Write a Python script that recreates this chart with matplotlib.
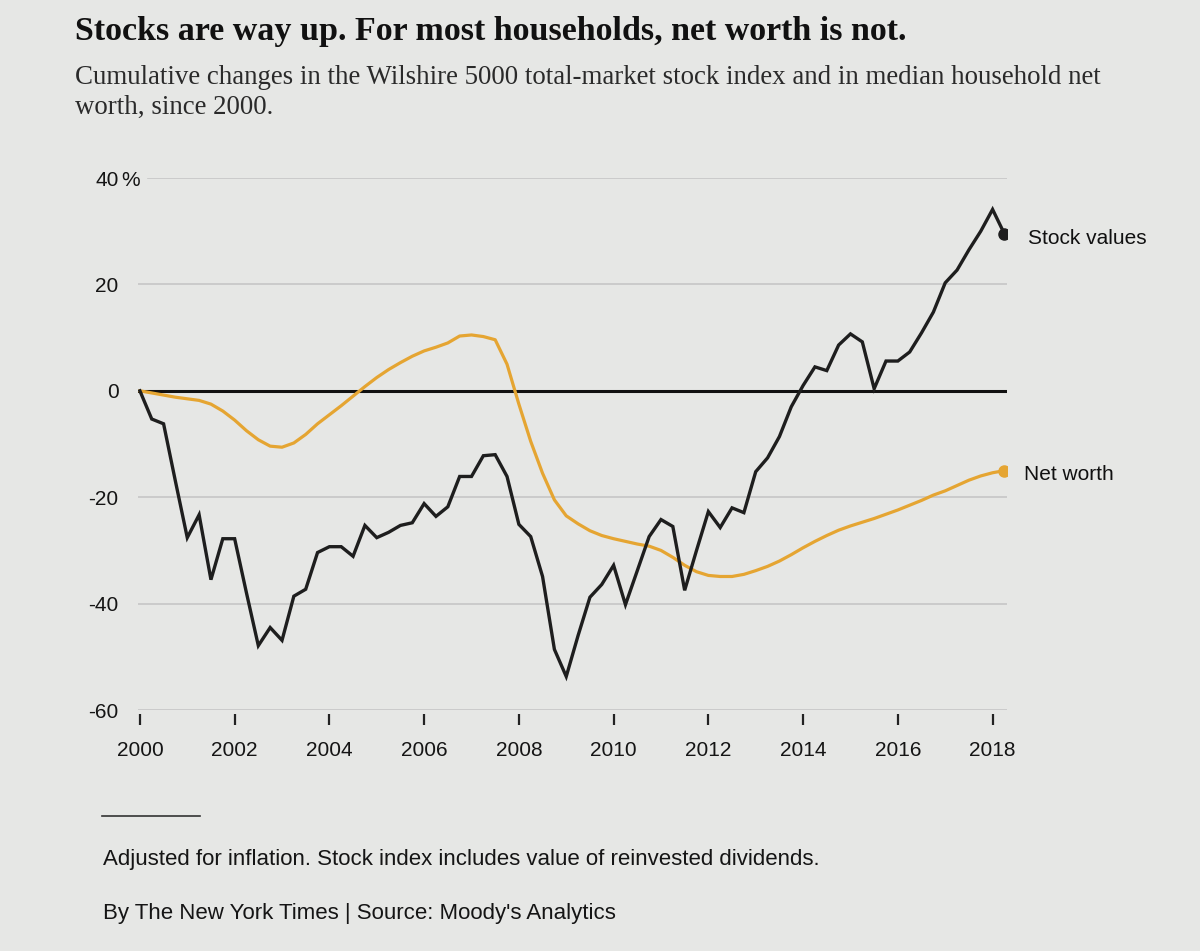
import numpy as np
import matplotlib.pyplot as plt

# Quarterly values, 2000 Q1 onward (cumulative % change)
stock_values = [
    0, -5.3, -6.2, -17, -27.6, -23.3, -35.5, -27.8, -27.8, -38,
    -47.9, -44.5, -46.9, -38.6, -37.3, -30.4, -29.3, -29.3, -31.1, -25.3,
    -27.6, -26.6, -25.3, -24.8, -21.2, -23.6, -21.8, -16.1, -16.1, -12.2,
    -12.0, -16.1, -25.1, -27.4, -34.9, -48.6, -53.7, -46, -38.8, -36.4,
    -32.8, -40.2, -33.8, -27.4, -24.2, -25.5, -37.5, -30, -22.7, -25.7,
    -22.0, -22.9, -15.2, -12.6, -8.6, -3, 1, 4.5, 3.8, 8.6,
    10.7, 9.2, 0.4, 5.6, 5.6, 7.3, 10.9, 14.8, 20.3, 22.7,
    26.5, 30, 34.1, 29.5,
]
net_worth = [
    0, -0.4, -0.8, -1.2, -1.5, -1.8, -2.5, -3.8, -5.5, -7.5,
    -9.2, -10.4, -10.6, -9.8, -8.2, -6.2, -4.5, -2.8, -1.0, 0.8,
    2.5, 4.0, 5.3, 6.5, 7.5, 8.2, 9.0, 10.3, 10.5, 10.2,
    9.6, 5, -2.5, -9.5, -15.5, -20.5, -23.5, -25, -26.3, -27.2,
    -27.8, -28.3, -28.8, -29.2, -30, -31.3, -32.8, -34, -34.7, -34.9,
    -34.9, -34.5, -33.8, -33, -32, -30.8, -29.5, -28.3, -27.2, -26.2,
    -25.4, -24.7, -24, -23.2, -22.4, -21.5, -20.6, -19.6, -18.8, -17.8,
    -16.8, -16, -15.4, -15,
]
start_year = 2000
y_ticks = [-60, -40, -20, 0, 20, 40]
x_ticks = [2000, 2002, 2004, 2006, 2008, 2010, 2012, 2014, 2016, 2018]

years = start_year + np.arange(len(stock_values)) / 4
years_nw = start_year + np.arange(len(net_worth)) / 4

bg = '#e6e7e5'
orange = '#e5a532'
ink = '#1e1e1e'

fig = plt.figure(figsize=(12, 9.51), dpi=100, facecolor=bg)
ax = fig.add_axes([0.115, 0.2534, 0.724, 0.5594], facecolor=bg)

ax.set_xlim(1999.96, 2018.3)
ax.set_ylim(-60, 40)

# gridlines (top one starts after the % sign)
for v in y_ticks:
    if v == 0:
        continue
    start = 0.012 if v == max(y_ticks) else 0
    ax.axhline(v, xmin=start, color='#c6c6c6', lw=1.2, zorder=1)
ax.axhline(0, color='#111111', lw=2.2, zorder=2)

ax.plot(years_nw, net_worth, color=orange, lw=2.3, zorder=3, solid_joinstyle='round')
ax.plot(years, stock_values, color=ink, lw=2.4, zorder=4, solid_joinstyle='miter')
ax.plot(years[-1], stock_values[-1], 'o', color=ink, ms=8, zorder=5)
ax.plot(years_nw[-1], net_worth[-1], 'o', color=orange, ms=8, zorder=5)

ax.annotate('Stock values', (years[-1], stock_values[-1]), xytext=(17, -3),
            textcoords='offset points', va='center', ha='left',
            fontsize=15, family='Liberation Sans', color='#111111',
            annotation_clip=False)
ax.annotate('Net worth', (years_nw[-1], net_worth[-1]), xytext=(14, -3),
            textcoords='offset points', va='center', ha='left',
            fontsize=15, family='Liberation Sans', color='#111111',
            annotation_clip=False)

for s in ax.spines.values():
    s.set_visible(False)
ax.spines['bottom'].set_position(('outward', 3))

ax.set_yticks(y_ticks)
ax.set_yticklabels([str(v) for v in y_ticks])
ax.set_xticks(x_ticks)
ax.set_xticklabels([str(v) for v in x_ticks])
ax.tick_params(axis='y', length=0, pad=14, labelsize=15, labelcolor='#151515')
ax.tick_params(axis='x', length=8, width=1.6, color='#222222', pad=11,
               labelsize=15, labelcolor='#151515')
for lab in ax.get_xticklabels() + ax.get_yticklabels():
    lab.set_family('Liberation Sans')
ax.annotate('%', (0, max(y_ticks)), xycoords=('axes fraction', 'data'),
            xytext=(-12, 0), textcoords='offset points', va='center_baseline', ha='left',
            fontsize=15, family='Liberation Sans', color='#151515',
            annotation_clip=False)

fig.text(0.0625, 1 - 40 / 951, 'Stocks are way up. For most households, net worth is not.',
         fontsize=24.5, fontweight='bold', family='Liberation Serif', color='#111111',
         va='baseline')
fig.text(0.0625, 1 - 84 / 951,
         'Cumulative changes in the Wilshire 5000 total-market stock index and in median household net',
         fontsize=19.4, family='Liberation Serif', color='#2a2a2a', va='baseline')
fig.text(0.0625, 1 - 114 / 951, 'worth, since 2000.',
         fontsize=19.4, family='Liberation Serif', color='#2a2a2a', va='baseline')

fig.add_artist(plt.Line2D([102 / 1200, 200 / 1200], [1 - 816 / 951] * 2,
                          color='#333333', lw=1.2))
fig.text(103 / 1200, 1 - 865 / 951,
         'Adjusted for inflation. Stock index includes value of reinvested dividends.',
         fontsize=16, family='Liberation Sans', color='#151515', va='baseline')
fig.text(103 / 1200, 1 - 919 / 951,
         "By The New York Times | Source: Moody's Analytics",
         fontsize=16, family='Liberation Sans', color='#151515', va='baseline')

plt.savefig('out.png', dpi=100, facecolor=bg)
